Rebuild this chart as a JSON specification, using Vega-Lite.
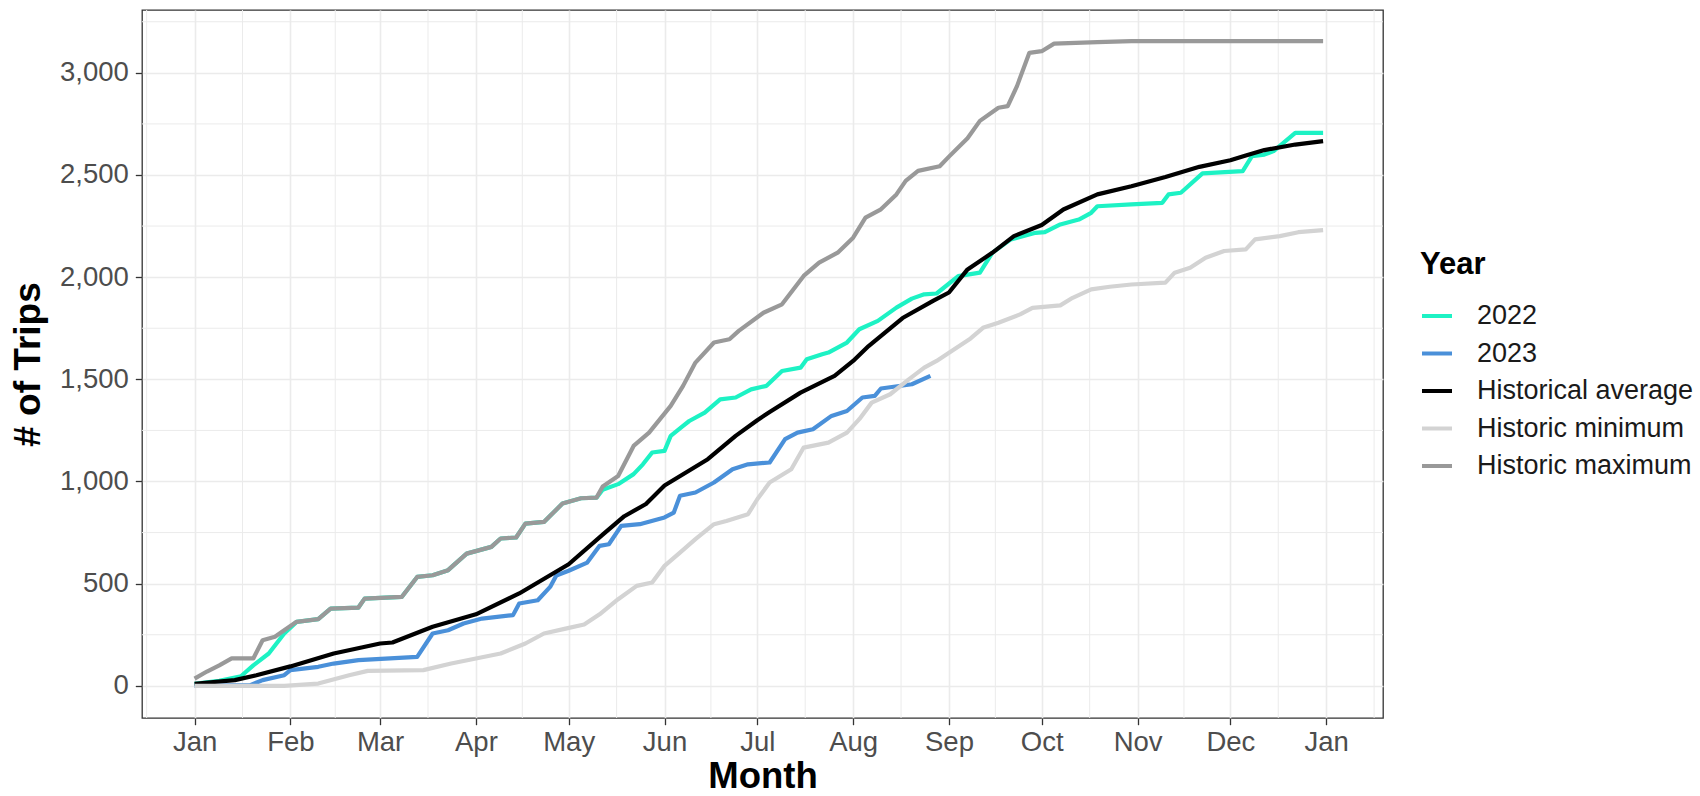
{
  "$schema": "https://vega.github.io/schema/vega-lite/v6.json",
  "width": 1241,
  "height": 708,
  "autosize": {"type": "none"},
  "padding": {"left": 142, "top": 10, "right": 317, "bottom": 78},
  "background": "white",
  "config": {
    "font": "Liberation Sans",
    "view": {"stroke": "#333333", "strokeWidth": 1.3},
    "axis": {
      "domain": false,
      "labelFontSize": 27.5,
      "labelColor": "#4D4D4D",
      "tickColor": "#333333",
      "tickSize": 6.7,
      "tickWidth": 1.3,
      "gridColor": "#EBEBEB",
      "gridWidth": 1.6,
      "titleFontSize": 37,
      "titleFontWeight": "bold",
      "titleColor": "#000000"
    }
  },
  "datasets": {
    "xminor": [
      {"date": "2023-12-16T12:00:00Z"}, {"date": "2024-01-16T12:00:00Z"}, {"date": "2024-02-15T12:00:00Z"},
      {"date": "2024-03-16T12:00:00Z"}, {"date": "2024-04-16T00:00:00Z"}, {"date": "2024-05-16T12:00:00Z"},
      {"date": "2024-06-16T00:00:00Z"}, {"date": "2024-07-16T12:00:00Z"}, {"date": "2024-08-16T12:00:00Z"},
      {"date": "2024-09-16T00:00:00Z"}, {"date": "2024-10-16T12:00:00Z"}, {"date": "2024-11-16T00:00:00Z"},
      {"date": "2024-12-16T12:00:00Z"}, {"date": "2025-01-16T12:00:00Z"}
    ],
    "yminor": [
      {"value": 250}, {"value": 750}, {"value": 1250}, {"value": 1750}, {"value": 2250}, {"value": 2750}, {"value": 3250}
    ],
    "series": [
      {"series": "2022", "date": "2024-01-01", "value": 10},
      {"series": "2022", "date": "2024-01-09", "value": 25},
      {"series": "2022", "date": "2024-01-16", "value": 47},
      {"series": "2022", "date": "2024-01-20", "value": 100},
      {"series": "2022", "date": "2024-01-25", "value": 158},
      {"series": "2022", "date": "2024-01-30", "value": 256},
      {"series": "2022", "date": "2024-02-03", "value": 313},
      {"series": "2022", "date": "2024-02-10", "value": 326},
      {"series": "2022", "date": "2024-02-14", "value": 378},
      {"series": "2022", "date": "2024-02-23", "value": 383},
      {"series": "2022", "date": "2024-02-25", "value": 427},
      {"series": "2022", "date": "2024-03-08", "value": 435},
      {"series": "2022", "date": "2024-03-13", "value": 533},
      {"series": "2022", "date": "2024-03-18", "value": 541},
      {"series": "2022", "date": "2024-03-23", "value": 566},
      {"series": "2022", "date": "2024-03-29", "value": 647},
      {"series": "2022", "date": "2024-04-06", "value": 680},
      {"series": "2022", "date": "2024-04-09", "value": 721},
      {"series": "2022", "date": "2024-04-14", "value": 726},
      {"series": "2022", "date": "2024-04-17", "value": 794},
      {"series": "2022", "date": "2024-04-23", "value": 802},
      {"series": "2022", "date": "2024-04-29", "value": 892},
      {"series": "2022", "date": "2024-05-05", "value": 918},
      {"series": "2022", "date": "2024-05-10", "value": 921},
      {"series": "2022", "date": "2024-05-12", "value": 960},
      {"series": "2022", "date": "2024-05-17", "value": 987},
      {"series": "2022", "date": "2024-05-22", "value": 1036},
      {"series": "2022", "date": "2024-05-25", "value": 1084},
      {"series": "2022", "date": "2024-05-28", "value": 1142},
      {"series": "2022", "date": "2024-06-01", "value": 1150},
      {"series": "2022", "date": "2024-06-03", "value": 1223},
      {"series": "2022", "date": "2024-06-07", "value": 1272},
      {"series": "2022", "date": "2024-06-09", "value": 1296},
      {"series": "2022", "date": "2024-06-14", "value": 1337},
      {"series": "2022", "date": "2024-06-19", "value": 1402},
      {"series": "2022", "date": "2024-06-24", "value": 1411},
      {"series": "2022", "date": "2024-06-29", "value": 1451},
      {"series": "2022", "date": "2024-07-04", "value": 1468},
      {"series": "2022", "date": "2024-07-09", "value": 1541},
      {"series": "2022", "date": "2024-07-15", "value": 1557},
      {"series": "2022", "date": "2024-07-17", "value": 1598},
      {"series": "2022", "date": "2024-07-22", "value": 1623},
      {"series": "2022", "date": "2024-07-24", "value": 1631},
      {"series": "2022", "date": "2024-07-30", "value": 1680},
      {"series": "2022", "date": "2024-08-03", "value": 1745},
      {"series": "2022", "date": "2024-08-09", "value": 1786},
      {"series": "2022", "date": "2024-08-15", "value": 1851},
      {"series": "2022", "date": "2024-08-20", "value": 1895},
      {"series": "2022", "date": "2024-08-24", "value": 1916},
      {"series": "2022", "date": "2024-08-28", "value": 1920},
      {"series": "2022", "date": "2024-09-04", "value": 2005},
      {"series": "2022", "date": "2024-09-11", "value": 2022},
      {"series": "2022", "date": "2024-09-15", "value": 2119},
      {"series": "2022", "date": "2024-09-21", "value": 2185},
      {"series": "2022", "date": "2024-09-29", "value": 2217},
      {"series": "2022", "date": "2024-10-02", "value": 2220},
      {"series": "2022", "date": "2024-10-07", "value": 2258},
      {"series": "2022", "date": "2024-10-13", "value": 2282},
      {"series": "2022", "date": "2024-10-17", "value": 2315},
      {"series": "2022", "date": "2024-10-19", "value": 2347},
      {"series": "2022", "date": "2024-10-30", "value": 2356},
      {"series": "2022", "date": "2024-11-09", "value": 2364},
      {"series": "2022", "date": "2024-11-11", "value": 2405},
      {"series": "2022", "date": "2024-11-15", "value": 2413},
      {"series": "2022", "date": "2024-11-22", "value": 2508},
      {"series": "2022", "date": "2024-12-05", "value": 2519},
      {"series": "2022", "date": "2024-12-08", "value": 2592},
      {"series": "2022", "date": "2024-12-12", "value": 2600},
      {"series": "2022", "date": "2024-12-15", "value": 2617},
      {"series": "2022", "date": "2024-12-22", "value": 2706},
      {"series": "2022", "date": "2024-12-31", "value": 2706},

      {"series": "2023", "date": "2024-01-01", "value": 0},
      {"series": "2023", "date": "2024-01-19", "value": 3},
      {"series": "2023", "date": "2024-01-23", "value": 28},
      {"series": "2023", "date": "2024-01-30", "value": 52},
      {"series": "2023", "date": "2024-02-01", "value": 77},
      {"series": "2023", "date": "2024-02-10", "value": 93},
      {"series": "2023", "date": "2024-02-15", "value": 109},
      {"series": "2023", "date": "2024-02-23", "value": 126},
      {"series": "2023", "date": "2024-03-13", "value": 142},
      {"series": "2023", "date": "2024-03-18", "value": 256},
      {"series": "2023", "date": "2024-03-23", "value": 272},
      {"series": "2023", "date": "2024-03-28", "value": 305},
      {"series": "2023", "date": "2024-04-03", "value": 329},
      {"series": "2023", "date": "2024-04-13", "value": 346},
      {"series": "2023", "date": "2024-04-15", "value": 403},
      {"series": "2023", "date": "2024-04-21", "value": 419},
      {"series": "2023", "date": "2024-04-25", "value": 484},
      {"series": "2023", "date": "2024-04-27", "value": 540},
      {"series": "2023", "date": "2024-05-01", "value": 563},
      {"series": "2023", "date": "2024-05-07", "value": 603},
      {"series": "2023", "date": "2024-05-11", "value": 685},
      {"series": "2023", "date": "2024-05-14", "value": 693},
      {"series": "2023", "date": "2024-05-18", "value": 783},
      {"series": "2023", "date": "2024-05-24", "value": 791},
      {"series": "2023", "date": "2024-06-01", "value": 824},
      {"series": "2023", "date": "2024-06-04", "value": 848},
      {"series": "2023", "date": "2024-06-06", "value": 930},
      {"series": "2023", "date": "2024-06-11", "value": 946},
      {"series": "2023", "date": "2024-06-17", "value": 995},
      {"series": "2023", "date": "2024-06-23", "value": 1060},
      {"series": "2023", "date": "2024-06-28", "value": 1084},
      {"series": "2023", "date": "2024-07-05", "value": 1093},
      {"series": "2023", "date": "2024-07-10", "value": 1207},
      {"series": "2023", "date": "2024-07-14", "value": 1239},
      {"series": "2023", "date": "2024-07-19", "value": 1256},
      {"series": "2023", "date": "2024-07-25", "value": 1321},
      {"series": "2023", "date": "2024-07-30", "value": 1345},
      {"series": "2023", "date": "2024-08-04", "value": 1411},
      {"series": "2023", "date": "2024-08-08", "value": 1419},
      {"series": "2023", "date": "2024-08-10", "value": 1455},
      {"series": "2023", "date": "2024-08-20", "value": 1476},
      {"series": "2023", "date": "2024-08-26", "value": 1517},

      {"series": "Historical average", "date": "2024-01-01", "value": 10},
      {"series": "Historical average", "date": "2024-01-14", "value": 28},
      {"series": "Historical average", "date": "2024-01-21", "value": 52},
      {"series": "Historical average", "date": "2024-02-01", "value": 95},
      {"series": "Historical average", "date": "2024-02-15", "value": 158},
      {"series": "Historical average", "date": "2024-03-01", "value": 207},
      {"series": "Historical average", "date": "2024-03-05", "value": 212},
      {"series": "Historical average", "date": "2024-03-18", "value": 289},
      {"series": "Historical average", "date": "2024-04-01", "value": 350},
      {"series": "Historical average", "date": "2024-04-15", "value": 452},
      {"series": "Historical average", "date": "2024-05-01", "value": 595},
      {"series": "Historical average", "date": "2024-05-12", "value": 740},
      {"series": "Historical average", "date": "2024-05-19", "value": 830},
      {"series": "Historical average", "date": "2024-05-26", "value": 890},
      {"series": "Historical average", "date": "2024-06-01", "value": 980},
      {"series": "Historical average", "date": "2024-06-15", "value": 1109},
      {"series": "Historical average", "date": "2024-06-24", "value": 1223},
      {"series": "Historical average", "date": "2024-07-01", "value": 1300},
      {"series": "Historical average", "date": "2024-07-05", "value": 1340},
      {"series": "Historical average", "date": "2024-07-15", "value": 1435},
      {"series": "Historical average", "date": "2024-07-26", "value": 1517},
      {"series": "Historical average", "date": "2024-08-01", "value": 1590},
      {"series": "Historical average", "date": "2024-08-06", "value": 1663},
      {"series": "Historical average", "date": "2024-08-17", "value": 1800},
      {"series": "Historical average", "date": "2024-08-27", "value": 1885},
      {"series": "Historical average", "date": "2024-09-01", "value": 1925},
      {"series": "Historical average", "date": "2024-09-07", "value": 2038},
      {"series": "Historical average", "date": "2024-09-15", "value": 2119},
      {"series": "Historical average", "date": "2024-09-22", "value": 2201},
      {"series": "Historical average", "date": "2024-10-01", "value": 2255},
      {"series": "Historical average", "date": "2024-10-08", "value": 2331},
      {"series": "Historical average", "date": "2024-10-19", "value": 2405},
      {"series": "Historical average", "date": "2024-10-30", "value": 2445},
      {"series": "Historical average", "date": "2024-11-10", "value": 2490},
      {"series": "Historical average", "date": "2024-11-21", "value": 2540},
      {"series": "Historical average", "date": "2024-12-01", "value": 2572},
      {"series": "Historical average", "date": "2024-12-06", "value": 2595},
      {"series": "Historical average", "date": "2024-12-12", "value": 2622},
      {"series": "Historical average", "date": "2024-12-22", "value": 2649},
      {"series": "Historical average", "date": "2024-12-31", "value": 2666},

      {"series": "Historic minimum", "date": "2024-01-01", "value": 0},
      {"series": "Historic minimum", "date": "2024-01-30", "value": 0},
      {"series": "Historic minimum", "date": "2024-02-10", "value": 11},
      {"series": "Historic minimum", "date": "2024-02-20", "value": 52},
      {"series": "Historic minimum", "date": "2024-02-26", "value": 73},
      {"series": "Historic minimum", "date": "2024-03-15", "value": 77},
      {"series": "Historic minimum", "date": "2024-03-24", "value": 109},
      {"series": "Historic minimum", "date": "2024-04-01", "value": 134},
      {"series": "Historic minimum", "date": "2024-04-09", "value": 158},
      {"series": "Historic minimum", "date": "2024-04-17", "value": 207},
      {"series": "Historic minimum", "date": "2024-04-23", "value": 256},
      {"series": "Historic minimum", "date": "2024-04-30", "value": 280},
      {"series": "Historic minimum", "date": "2024-05-06", "value": 300},
      {"series": "Historic minimum", "date": "2024-05-11", "value": 350},
      {"series": "Historic minimum", "date": "2024-05-17", "value": 424},
      {"series": "Historic minimum", "date": "2024-05-23", "value": 489},
      {"series": "Historic minimum", "date": "2024-05-28", "value": 506},
      {"series": "Historic minimum", "date": "2024-06-01", "value": 587},
      {"series": "Historic minimum", "date": "2024-06-06", "value": 652},
      {"series": "Historic minimum", "date": "2024-06-11", "value": 718},
      {"series": "Historic minimum", "date": "2024-06-17", "value": 791},
      {"series": "Historic minimum", "date": "2024-06-21", "value": 807},
      {"series": "Historic minimum", "date": "2024-06-28", "value": 840},
      {"series": "Historic minimum", "date": "2024-07-01", "value": 913},
      {"series": "Historic minimum", "date": "2024-07-05", "value": 995},
      {"series": "Historic minimum", "date": "2024-07-12", "value": 1060},
      {"series": "Historic minimum", "date": "2024-07-16", "value": 1166},
      {"series": "Historic minimum", "date": "2024-07-24", "value": 1190},
      {"series": "Historic minimum", "date": "2024-07-30", "value": 1239},
      {"series": "Historic minimum", "date": "2024-08-03", "value": 1305},
      {"series": "Historic minimum", "date": "2024-08-07", "value": 1386},
      {"series": "Historic minimum", "date": "2024-08-13", "value": 1427},
      {"series": "Historic minimum", "date": "2024-08-19", "value": 1500},
      {"series": "Historic minimum", "date": "2024-08-24", "value": 1557},
      {"series": "Historic minimum", "date": "2024-08-28", "value": 1590},
      {"series": "Historic minimum", "date": "2024-09-02", "value": 1640},
      {"series": "Historic minimum", "date": "2024-09-08", "value": 1700},
      {"series": "Historic minimum", "date": "2024-09-12", "value": 1752},
      {"series": "Historic minimum", "date": "2024-09-17", "value": 1777},
      {"series": "Historic minimum", "date": "2024-09-24", "value": 1818},
      {"series": "Historic minimum", "date": "2024-09-28", "value": 1850},
      {"series": "Historic minimum", "date": "2024-10-07", "value": 1862},
      {"series": "Historic minimum", "date": "2024-10-11", "value": 1899},
      {"series": "Historic minimum", "date": "2024-10-17", "value": 1940},
      {"series": "Historic minimum", "date": "2024-10-23", "value": 1953},
      {"series": "Historic minimum", "date": "2024-10-30", "value": 1964},
      {"series": "Historic minimum", "date": "2024-11-10", "value": 1973},
      {"series": "Historic minimum", "date": "2024-11-13", "value": 2022},
      {"series": "Historic minimum", "date": "2024-11-18", "value": 2046},
      {"series": "Historic minimum", "date": "2024-11-23", "value": 2095},
      {"series": "Historic minimum", "date": "2024-11-29", "value": 2128},
      {"series": "Historic minimum", "date": "2024-12-06", "value": 2136},
      {"series": "Historic minimum", "date": "2024-12-09", "value": 2185},
      {"series": "Historic minimum", "date": "2024-12-17", "value": 2201},
      {"series": "Historic minimum", "date": "2024-12-23", "value": 2220},
      {"series": "Historic minimum", "date": "2024-12-31", "value": 2230},

      {"series": "Historic maximum", "date": "2024-01-01", "value": 35},
      {"series": "Historic maximum", "date": "2024-01-05", "value": 70},
      {"series": "Historic maximum", "date": "2024-01-09", "value": 100},
      {"series": "Historic maximum", "date": "2024-01-13", "value": 134},
      {"series": "Historic maximum", "date": "2024-01-20", "value": 134},
      {"series": "Historic maximum", "date": "2024-01-23", "value": 223},
      {"series": "Historic maximum", "date": "2024-01-27", "value": 240},
      {"series": "Historic maximum", "date": "2024-01-30", "value": 272},
      {"series": "Historic maximum", "date": "2024-02-03", "value": 313},
      {"series": "Historic maximum", "date": "2024-02-10", "value": 326},
      {"series": "Historic maximum", "date": "2024-02-14", "value": 378},
      {"series": "Historic maximum", "date": "2024-02-23", "value": 383},
      {"series": "Historic maximum", "date": "2024-02-25", "value": 427},
      {"series": "Historic maximum", "date": "2024-03-08", "value": 435},
      {"series": "Historic maximum", "date": "2024-03-13", "value": 533},
      {"series": "Historic maximum", "date": "2024-03-18", "value": 541},
      {"series": "Historic maximum", "date": "2024-03-23", "value": 566},
      {"series": "Historic maximum", "date": "2024-03-29", "value": 647},
      {"series": "Historic maximum", "date": "2024-04-06", "value": 680},
      {"series": "Historic maximum", "date": "2024-04-09", "value": 721},
      {"series": "Historic maximum", "date": "2024-04-14", "value": 726},
      {"series": "Historic maximum", "date": "2024-04-17", "value": 794},
      {"series": "Historic maximum", "date": "2024-04-23", "value": 802},
      {"series": "Historic maximum", "date": "2024-04-29", "value": 892},
      {"series": "Historic maximum", "date": "2024-05-05", "value": 918},
      {"series": "Historic maximum", "date": "2024-05-10", "value": 921},
      {"series": "Historic maximum", "date": "2024-05-12", "value": 975},
      {"series": "Historic maximum", "date": "2024-05-17", "value": 1027},
      {"series": "Historic maximum", "date": "2024-05-22", "value": 1174},
      {"series": "Historic maximum", "date": "2024-05-27", "value": 1239},
      {"series": "Historic maximum", "date": "2024-06-03", "value": 1370},
      {"series": "Historic maximum", "date": "2024-06-07", "value": 1468},
      {"series": "Historic maximum", "date": "2024-06-11", "value": 1582},
      {"series": "Historic maximum", "date": "2024-06-17", "value": 1680},
      {"series": "Historic maximum", "date": "2024-06-22", "value": 1696},
      {"series": "Historic maximum", "date": "2024-06-25", "value": 1737},
      {"series": "Historic maximum", "date": "2024-07-03", "value": 1826},
      {"series": "Historic maximum", "date": "2024-07-09", "value": 1867},
      {"series": "Historic maximum", "date": "2024-07-16", "value": 2006},
      {"series": "Historic maximum", "date": "2024-07-21", "value": 2071},
      {"series": "Historic maximum", "date": "2024-07-27", "value": 2120},
      {"series": "Historic maximum", "date": "2024-08-01", "value": 2193},
      {"series": "Historic maximum", "date": "2024-08-05", "value": 2291},
      {"series": "Historic maximum", "date": "2024-08-10", "value": 2332},
      {"series": "Historic maximum", "date": "2024-08-15", "value": 2405},
      {"series": "Historic maximum", "date": "2024-08-18", "value": 2471},
      {"series": "Historic maximum", "date": "2024-08-22", "value": 2520},
      {"series": "Historic maximum", "date": "2024-08-29", "value": 2543},
      {"series": "Historic maximum", "date": "2024-09-01", "value": 2590},
      {"series": "Historic maximum", "date": "2024-09-07", "value": 2680},
      {"series": "Historic maximum", "date": "2024-09-11", "value": 2765},
      {"series": "Historic maximum", "date": "2024-09-17", "value": 2829},
      {"series": "Historic maximum", "date": "2024-09-20", "value": 2837},
      {"series": "Historic maximum", "date": "2024-09-23", "value": 2935},
      {"series": "Historic maximum", "date": "2024-09-27", "value": 3098},
      {"series": "Historic maximum", "date": "2024-10-01", "value": 3106},
      {"series": "Historic maximum", "date": "2024-10-05", "value": 3143},
      {"series": "Historic maximum", "date": "2024-10-19", "value": 3150},
      {"series": "Historic maximum", "date": "2024-10-30", "value": 3155},
      {"series": "Historic maximum", "date": "2024-12-31", "value": 3155}
    ]
  },
  "layer": [
    {
      "data": {"name": "xminor"},
      "mark": {"type": "rule", "color": "#EBEBEB", "strokeWidth": 1},
      "encoding": {
        "x": {"field": "date", "type": "temporal",
              "scale": {"type": "utc", "domain": [{"year": 2023, "month": 12, "date": 15, "utc": true}, {"year": 2025, "month": 1, "date": 19, "hours": 9, "utc": true}], "nice": false}}
      }
    },
    {
      "data": {"name": "yminor"},
      "mark": {"type": "rule", "color": "#EBEBEB", "strokeWidth": 1},
      "encoding": {
        "y": {"field": "value", "type": "quantitative", "scale": {"domain": [-157.5, 3307.5], "nice": false, "zero": false}}
      }
    },
    {
      "data": {"name": "series"},
      "mark": {"type": "line", "strokeWidth": 4.2, "strokeJoin": "round"},
      "encoding": {
        "x": {
          "field": "date", "type": "temporal",
          "scale": {"type": "utc", "domain": [{"year": 2023, "month": 12, "date": 15, "utc": true}, {"year": 2025, "month": 1, "date": 19, "hours": 9, "utc": true}], "nice": false},
          "axis": {
            "title": "Month",
            "values": [
              {"year": 2024, "month": 1, "date": 1, "utc": true}, {"year": 2024, "month": 2, "date": 1, "utc": true},
              {"year": 2024, "month": 3, "date": 1, "utc": true}, {"year": 2024, "month": 4, "date": 1, "utc": true},
              {"year": 2024, "month": 5, "date": 1, "utc": true}, {"year": 2024, "month": 6, "date": 1, "utc": true},
              {"year": 2024, "month": 7, "date": 1, "utc": true}, {"year": 2024, "month": 8, "date": 1, "utc": true},
              {"year": 2024, "month": 9, "date": 1, "utc": true}, {"year": 2024, "month": 10, "date": 1, "utc": true},
              {"year": 2024, "month": 11, "date": 1, "utc": true}, {"year": 2024, "month": 12, "date": 1, "utc": true},
              {"year": 2025, "month": 1, "date": 1, "utc": true}
            ],
            "labelExpr": "utcFormat(datum.value, '%b')",
            "labelPadding": 4,
            "titlePadding": 2,
            "titleFontSize": 36.5,
            "labelFlush": false,
            "labelOverlap": false
          }
        },
        "y": {
          "field": "value", "type": "quantitative",
          "scale": {"domain": [-157.5, 3307.5], "nice": false, "zero": false},
          "axis": {
            "title": "# of Trips",
            "values": [0, 500, 1000, 1500, 2000, 2500, 3000],
            "format": ",.0f",
            "labelPadding": 7,
            "titlePadding": 12
          }
        },
        "color": {
          "field": "series", "type": "nominal",
          "scale": {
            "domain": ["2022", "2023", "Historical average", "Historic minimum", "Historic maximum"],
            "range": ["#1DF2C4", "#4A90D9", "#000000", "#D3D3D3", "#999999"]
          },
          "legend": {
            "title": "Year",
            "orient": "none",
            "legendX": 1278,
            "legendY": 240,
            "padding": 0,
            "titleFontSize": 31,
            "titleFontWeight": "bold",
            "titleColor": "#000000",
            "titlePadding": 18,
            "labelFontSize": 27,
            "labelColor": "#1A1A1A",
            "labelLimit": 400,
            "labelOffset": 23,
            "rowPadding": 7.5,
            "symbolType": "stroke",
            "symbolSize": 900,
            "symbolStrokeWidth": 4
          }
        }
      }
    }
  ]
}
